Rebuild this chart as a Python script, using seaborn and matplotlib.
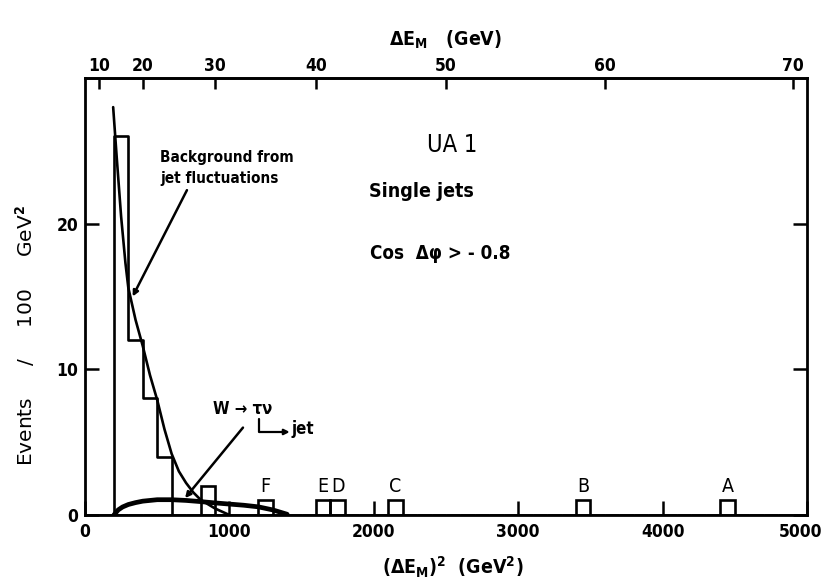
import numpy as np
import pandas as pd
import matplotlib
matplotlib.use("Agg")
import matplotlib.pyplot as plt
from matplotlib import font_manager as fm
from matplotlib.transforms import ScaledTranslation
import seaborn as sns

# Event counts per 100 GeV^2 bin, (dE_M)^2 in GeV^2
main_bin_lo = [200, 300, 400, 500]
main_counts = [26, 12, 8, 4]
bin_width = 100

# Isolated events above the background peak
box_bin_lo = [800, 1200, 1600, 1700, 2100, 3400, 4400]
box_counts = [2, 1, 1, 1, 1, 1, 1]
box_labels = ["", "F", "E", "D", "C", "B", "A"]

# Background from jet fluctuations (expected events / 100 GeV^2)
bg_x = [195, 220, 250, 280, 300, 350, 400, 450, 500, 550, 600, 650, 700, 750, 800, 900, 1000]
bg_y = [28.0, 24.5, 20.5, 17.3, 15.6, 13.4, 11.6, 9.6, 7.9, 5.9, 4.2, 3.0, 2.2, 1.55, 1.05, 0.45, 0.0]

# W -> tau nu, tau -> jet expectation
w_x = [200, 230, 260, 300, 350, 400, 500, 600, 700, 800, 900, 1000, 1100, 1200, 1300, 1400]
w_y = [0.0, 0.35, 0.55, 0.72, 0.85, 0.95, 1.05, 1.05, 1.0, 0.92, 0.83, 0.75, 0.67, 0.56, 0.35, 0.05]

x_ticks = [0, 1000, 2000, 3000, 4000, 5000]
y_ticks = [0, 10, 20]
top_ticks = [10, 20, 30, 40, 50, 60, 70]

sns.set_theme(style="ticks")

# Prefer a narrow face for the lettering
names = {f.name for f in fm.fontManager.ttflist}
condensed = any(f.name == "DejaVu Sans" and f.stretch == "condensed"
                for f in fm.fontManager.ttflist)
if "Liberation Sans Narrow" in names:
    FACE = "Liberation Sans Narrow"
    STRETCH = "normal"
else:
    FACE = "DejaVu Sans"
    STRETCH = "condensed" if condensed else "normal"
NARROW = STRETCH == "condensed" or FACE == "Liberation Sans Narrow"
SCALE = 1.0 if NARROW else 0.85

plt.rcParams["font.family"] = [FACE, "DejaVu Sans"]
plt.rcParams["font.stretch"] = STRETCH
plt.rcParams["font.weight"] = "bold"
plt.rcParams["axes.labelweight"] = "bold"
plt.rcParams["text.color"] = "black"
plt.rcParams["axes.labelcolor"] = "black"
plt.rcParams["mathtext.fontset"] = "custom"
plt.rcParams["mathtext.rm"] = f"{FACE}:bold"
plt.rcParams["mathtext.it"] = f"{FACE}:bold"
plt.rcParams["mathtext.bf"] = f"{FACE}:bold"

fig = plt.figure(figsize=(8.26, 5.79), dpi=100)
ax = fig.add_axes([85 / 826, 1 - 515 / 579, 722 / 826, 437 / 579])

ink = "black"

# Main histogram outline as a step line
edges = main_bin_lo + [main_bin_lo[-1] + bin_width]
step_df = pd.DataFrame({
    "x": [edges[0]] + edges,
    "y": [0] + main_counts + [0],
})
sns.lineplot(data=step_df, x="x", y="y", ax=ax, estimator=None, sort=False,
             drawstyle="steps-post", color=ink, linewidth=1.9)

# Isolated events as outlined boxes
box_df = pd.DataFrame({"x": [lo + bin_width / 2 for lo in box_bin_lo],
                       "w": box_counts})
sns.histplot(data=box_df, x="x", weights="w", binwidth=bin_width,
             binrange=(0, 5000), element="bars", fill=False, ax=ax,
             color=ink, linewidth=1.9)

# Expectation curves
sns.lineplot(x=bg_x, y=bg_y, ax=ax, estimator=None, sort=False,
             color=ink, linewidth=1.9)
sns.lineplot(x=w_x, y=w_y, ax=ax, estimator=None, sort=False,
             color=ink, linewidth=3.4, solid_capstyle="round")

# Event letters above their boxes
for lo, c, lab in zip(box_bin_lo, box_counts, box_labels):
    if lab:
        ax.annotate(lab, xy=(lo + bin_width / 2, c), xytext=(0, 3),
                    textcoords="offset points", ha="center", va="bottom",
                    fontsize=14 * SCALE, fontweight="normal")

# Annotations
fs_small = 11 * SCALE
ax.text(519, 24.2, "Background from", fontsize=fs_small, ha="left", va="baseline")
ax.text(519, 22.8, "jet fluctuations", fontsize=fs_small, ha="left", va="baseline")
ax.annotate("", xy=(330, 15.0), xytext=(706, 22.3),
            arrowprops=dict(arrowstyle="-|>", color=ink, lw=1.8,
                            mutation_scale=8, shrinkA=0, shrinkB=0))

ax.text(886, 6.9, "W → τν", fontsize=12 * SCALE, ha="left", va="baseline")
ax.annotate("", xy=(1418, 5.7), xytext=(1205, 6.6),
            arrowprops=dict(arrowstyle="-|>", color=ink, lw=1.6,
                            mutation_scale=8, shrinkA=0, shrinkB=0,
                            connectionstyle="angle,angleA=-90,angleB=180,rad=0"))
ax.text(1433, 5.55, "jet", fontsize=12 * SCALE, ha="left", va="baseline")
ax.annotate("", xy=(693, 1.16), xytext=(1094, 6.0),
            arrowprops=dict(arrowstyle="-|>", color=ink, lw=1.8,
                            mutation_scale=8, shrinkA=0, shrinkB=0))

ax.text(2368, 24.9, "UA 1", fontsize=17 * SCALE, ha="left", va="baseline",
        fontweight="normal")
ax.text(1967, 21.8, "Single jets", fontsize=14 * SCALE, ha="left", va="baseline")
ax.text(1974, 17.6, "Cos  Δφ > - 0.8", fontsize=13.5 * SCALE, ha="left", va="baseline")

# Axes
ax.set_xlim(0, 5000)
ax.set_ylim(0, 30)
ax.set_xticks(x_ticks)
ax.set_yticks(y_ticks)
ax.tick_params(axis="both", direction="in", length=10, width=1.8,
               labelsize=12.5 * SCALE, pad=6, colors=ink)
ax.tick_params(axis="y", right=True, pad=5)
for s in ax.spines.values():
    s.set_visible(True)
    s.set_linewidth(2.0)
    s.set_color(ink)

# Keep the last bottom label inside the canvas
fig.canvas.draw()
last = ax.get_xticklabels()[-1]
last.set_transform(last.get_transform() + ScaledTranslation(-6 / 100, 0, fig.dpi_scale_trans))

ax.set_xlabel(r"$(\Delta E_{M})^{2}$  (GeV$^{2}$)", fontsize=14 * SCALE)
ax.set_ylabel(r"Events     /     100     GeV$^{2}$", fontsize=14.5 * SCALE,
              fontweight="normal", fontstretch="normal")
ax.xaxis.set_label_coords(0.51, -0.09)
ax.yaxis.set_label_coords(-0.067, 0.41)

# Top axis in dE_M
sec = ax.secondary_xaxis("top", functions=(lambda v: np.sqrt(np.clip(v, 0, None)),
                                           lambda e: np.square(e)))
sec.set_xticks(top_ticks)
sec.tick_params(direction="in", length=8, width=1.8, labelsize=12.5 * SCALE,
                pad=2, colors=ink)
sec.spines["top"].set_linewidth(2.0)
sec.set_xlabel(r"$\Delta E_{M}$   (GeV)", fontsize=14 * SCALE, labelpad=8)

fig.savefig("out.png", dpi=100)
